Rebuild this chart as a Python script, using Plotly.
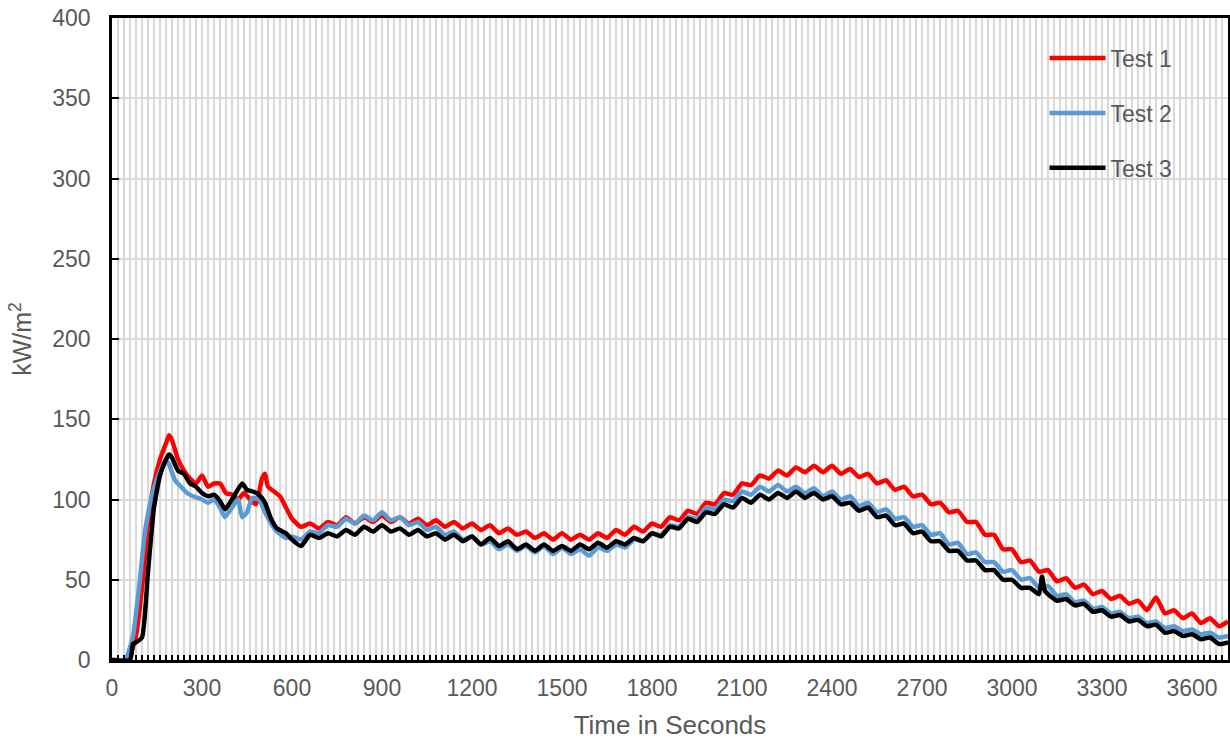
import plotly.graph_objects as go

# ---- data ----
# Test 1 (red)
t1 = ([0, 40, 60, 80, 100, 120, 140, 160, 180, 190, 200, 220, 240, 260, 280, 300,
       320, 340, 360, 380, 400, 420, 440, 460, 480, 500, 510, 520, 540, 560, 580]
      + list(range(600, 3721, 30)))
test1 = [0, 0, 3, 15, 45, 85, 110, 125, 135, 140, 137, 125, 118, 113, 110, 115,
         108, 110, 110, 104, 103, 100, 104, 100, 97, 113, 116, 108, 105, 102, 95,
         # 600 ...
         88, 83, 85, 82, 86, 84, 89, 85, 89, 86,
         90, 86, 89, 85, 88, 84, 87, 83, 86, 82,
         85, 81, 84, 79, 82, 78, 80, 76, 79, 75,
         79, 75, 78, 75, 79, 76, 81, 78, 83, 80,
         85, 83, 89, 87, 93, 91, 98, 97, 104, 103,
         110, 109, 115, 113, 118, 115, 120, 117, 121, 117,
         121, 116, 119, 114, 116, 110, 112, 106, 108, 102,
         103, 97, 98, 92, 93, 86, 86, 78, 78, 69,
         69, 61, 62, 55, 56, 49, 51, 45, 47, 41,
         43, 38, 40, 35, 37, 31, 39, 29, 31, 26,
         29, 23, 26, 21, 24]

# Test 2 (blue)
t2 = ([0, 40, 50, 70, 90, 110, 130, 150, 170, 180, 190, 210, 230, 250, 270, 300,
       320, 340, 360, 376, 400, 420, 434, 450, 468, 490, 510, 530, 550, 580]
      + list(range(600, 3721, 30)))
test2 = [0, 0, 2, 15, 45, 80, 100, 113, 122, 125, 122, 112, 108, 104, 102, 100,
         98, 100, 95, 89, 95, 100, 89, 92, 101, 100, 92, 85, 80, 76,
         # 600 ...
         77, 75, 80, 79, 84, 83, 88, 85, 90, 87,
         92, 87, 89, 84, 86, 81, 83, 78, 80, 75,
         77, 72, 74, 69, 72, 68, 71, 67, 71, 66,
         70, 66, 69, 65, 70, 68, 72, 70, 75, 74,
         79, 78, 84, 83, 89, 88, 95, 94, 100, 99,
         105, 103, 108, 105, 109, 105, 108, 104, 107, 102,
         105, 100, 102, 96, 98, 92, 94, 88, 89, 83,
         84, 78, 79, 72, 73, 66, 67, 61, 61, 55,
         56, 50, 51, 45, 46, 40, 41, 36, 37, 32,
         33, 29, 30, 26, 27, 23, 24, 20, 21, 18,
         19, 16, 17, 14, 15]

# Test 3 (black)
t3 = ([0, 60, 70, 80, 100, 120, 140, 160, 180, 190, 200, 220, 240, 260, 280, 300,
       320, 340, 360, 377, 400, 434, 450, 470, 490, 510, 530, 550, 580]
      + list(range(600, 3091, 30)) + [3100, 3110] + list(range(3150, 3721, 30)))
test3 = [0, 0, 10, 11, 14, 55, 95, 115, 125, 128, 126, 118, 116, 110, 108, 104,
         102, 103, 99, 94, 100, 110, 106, 105, 103, 98, 88, 82, 79,
         # 600 ...
         75, 71, 78, 76, 79, 77, 81, 78, 83, 80,
         84, 80, 82, 78, 81, 77, 79, 75, 78, 74,
         77, 72, 76, 71, 74, 69, 72, 68, 72, 68,
         71, 68, 72, 69, 73, 70, 74, 72, 76, 74,
         79, 77, 83, 82, 88, 86, 92, 91, 97, 95,
         101, 98, 103, 100, 104, 101, 105, 101, 104, 100,
         102, 97, 98, 93, 95, 89, 90, 84, 85, 79,
         80, 74, 74, 68, 68, 62, 62, 56, 56, 50,
         50, 45, 45, 41, 52, 43, 37, 38, 34, 35,
         30, 31, 27, 28, 24, 25, 21, 22, 17, 18,
         15, 16, 13, 14, 10, 11]

assert len(t1) == len(test1) and len(t2) == len(test2) and len(t3) == len(test3)

series = [("Test 1", t1, test1, "#FF0000"),
          ("Test 2", t2, test2, "#5B9BD5"),
          ("Test 3", t3, test3, "#000000")]

x_ticks = list(range(0, 3601, 300))
y_ticks = list(range(0, 401, 50))

fig = go.Figure()
for i, (name, t, v, c) in enumerate(series):
    fig.add_trace(go.Scatter(x=t, y=v, name=name, mode="lines",
                             line=dict(color=c, width=4.5, shape="spline", smoothing=0.5),
                             legendgroup=f"g{i}"))

font = "Liberation Sans, Arial, sans-serif"
grey = "#595959"
fig.update_layout(
    width=1230, height=740,
    margin=dict(l=112, r=2, t=18, b=80),
    paper_bgcolor="white", plot_bgcolor="white",
    font=dict(family=font, color=grey, size=23),
    showlegend=True,
    legend=dict(x=0.8356, y=0.971, xanchor="left", yanchor="top",
                bgcolor="rgba(0,0,0,0)", tracegroupgap=22, itemwidth=56,
                font=dict(size=23, color=grey, family=font)),
)
fig.update_xaxes(
    range=[0, 3720], tickvals=x_ticks, ticktext=[str(v) for v in x_ticks],
    showgrid=True, gridcolor="#d9d9d9", gridwidth=2,
    minor=dict(dtick=20, tick0=0, showgrid=True, gridcolor="#d9d9d9", gridwidth=2,
               ticks="inside", ticklen=5, tickcolor="black", tickwidth=1.5),
    ticks="inside", ticklen=5, tickcolor="black", tickwidth=1.5,
    showline=True, linecolor="black", linewidth=2.5, mirror=True,
    zeroline=False, ticklabelstandoff=6, automargin=False,
    tickfont=dict(size=23, color=grey, family=font),
    title=dict(text="Time in Seconds", font=dict(size=26, color=grey, family=font), standoff=16),
)
fig.update_yaxes(
    range=[0, 400], tickvals=y_ticks,
    showgrid=True, gridcolor="#d9d9d9", gridwidth=1.5,
    ticks="inside", ticklen=7, tickcolor="black", tickwidth=2,
    showline=True, linecolor="black", linewidth=2.5, mirror=True,
    zeroline=False, ticklabelstandoff=14, automargin=False,
    tickfont=dict(size=23, color=grey, family=font),
    title=dict(text="kW/m<sup>2</sup>", font=dict(size=25, color=grey, family=font), standoff=14),
)

fig.write_html("out.html",
               config={"displayModeBar": False},
               post_script="document.body.style.margin='0';document.body.style.overflow='hidden';")
